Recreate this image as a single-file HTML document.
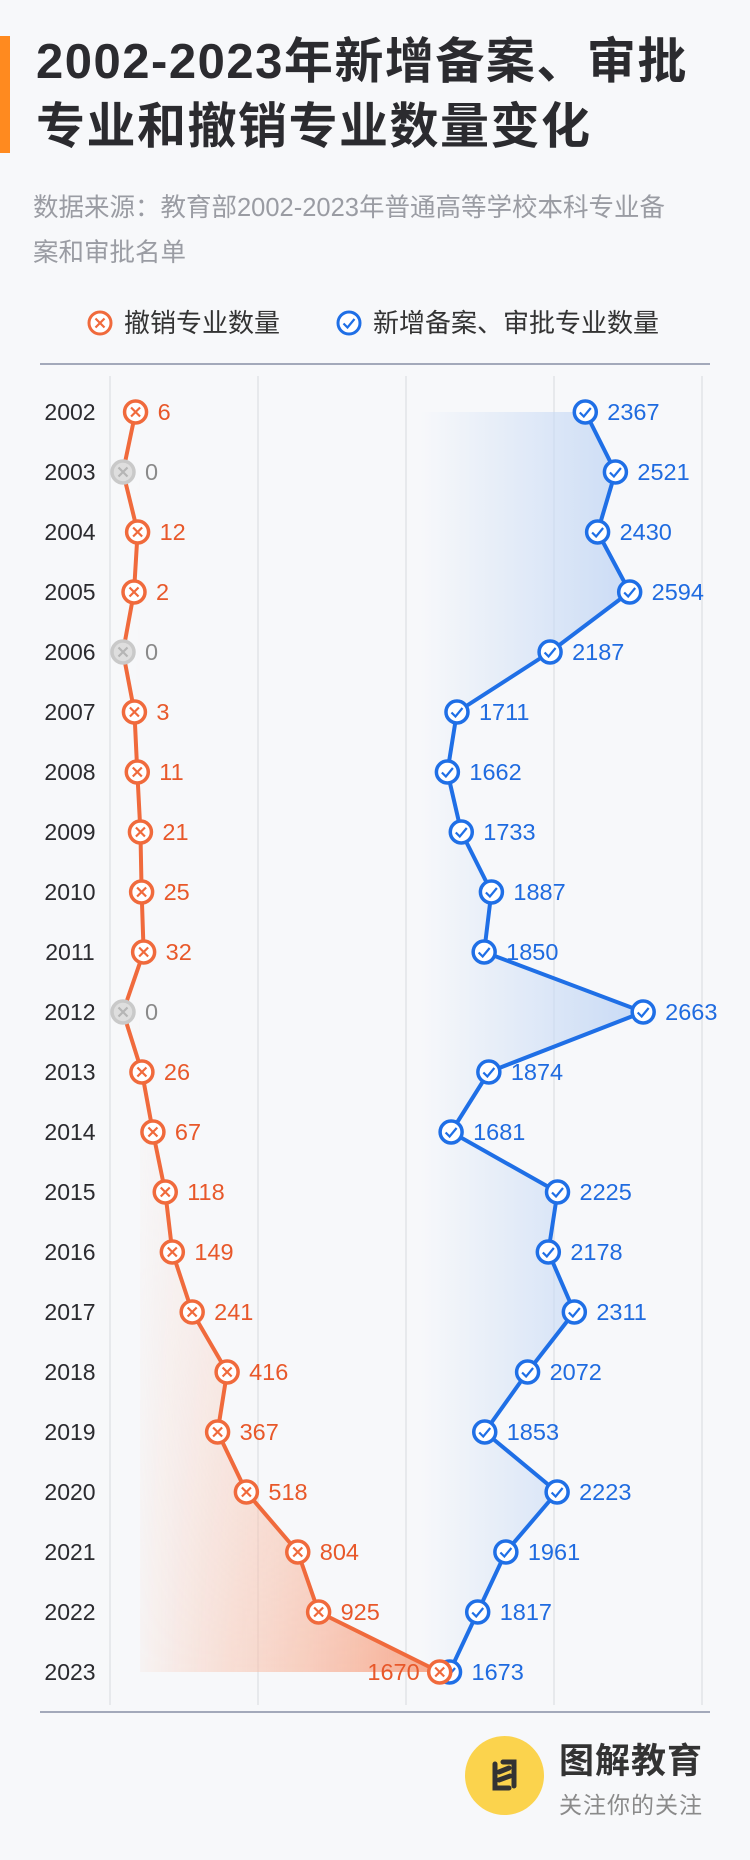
<!DOCTYPE html>
<html><head><meta charset="utf-8">
<style>
html,body{margin:0;padding:0;}
body{width:750px;height:1860px;background:#f7f8fa;position:relative;overflow:hidden;font-family:"Liberation Sans","Noto Sans CJK SC",sans-serif;}
.abs{position:absolute;}
</style></head>
<body>
<div class="abs" style="left:0;top:36px;width:10px;height:117px;background:#ff8a1f;"></div>
<div class="abs" style="left:36px;top:30px;font-size:49px;font-weight:bold;color:#2b2b2f;line-height:65px;letter-spacing:1.5px;white-space:nowrap;">2002-2023年新增备案、审批<br>专业和撤销专业数量变化</div>
<div class="abs" style="left:33px;top:186px;font-size:25.5px;color:#9a9ca3;line-height:45px;white-space:nowrap;">数据来源：教育部2002-2023年普通高等学校本科专业备<br>案和审批名单</div>

<svg class="abs" style="left:0;top:0" width="750" height="1860">
<defs>
<linearGradient id="gb" x1="0" y1="0" x2="1" y2="0">
<stop offset="0" stop-color="#c8daf5" stop-opacity="0"/><stop offset="1" stop-color="#c8daf5" stop-opacity="1"/></linearGradient>
<linearGradient id="go" x1="0" y1="0" x2="1" y2="0">
<stop offset="0" stop-color="#f8b8a0" stop-opacity="0"/><stop offset="0.35" stop-color="#f8c2ad" stop-opacity="0.5"/><stop offset="1" stop-color="#f6a88c" stop-opacity="1"/></linearGradient>
<linearGradient id="gv" x1="0" y1="0" x2="0" y2="1">
<stop offset="0" stop-color="#fff" stop-opacity="0"/><stop offset="0.5" stop-color="#fff" stop-opacity="0.25"/><stop offset="1" stop-color="#fff" stop-opacity="1"/></linearGradient>
<mask id="mv" maskContentUnits="userSpaceOnUse"><rect x="0" y="412" width="750" height="1260" fill="url(#gv)"/></mask>
</defs>
<g id="legend">
<circle cx="100" cy="323" r="11" fill="#fff" stroke="#f06a3c" stroke-width="3"/>
<path d="M95.5 318.5 L104.5 327.5 M104.5 318.5 L95.5 327.5" stroke="#f06a3c" stroke-width="2.2"/>
<text x="124" y="332" font-size="26" fill="#333">撤销专业数量</text>
<circle cx="349" cy="323" r="11" fill="#fff" stroke="#1f6fe6" stroke-width="3"/>
<path d="M343.5 323.5 L347.5 327.5 L354.5 319" stroke="#1f6fe6" stroke-width="2.2" fill="none"/>
<text x="373" y="332" font-size="26" fill="#333">新增备案、审批专业数量</text>
</g>
<line x1="40" y1="364" x2="710" y2="364" stroke="#a3a9ba" stroke-width="2"/>
<line x1="40" y1="1712" x2="710" y2="1712" stroke="#a3a9ba" stroke-width="2"/>
<g id="grid"></g>
<g id="areas"></g>
<g id="lines"></g>
<g id="marks"></g>
<g id="ylab"></g>
</svg>

<div class="abs" style="left:465px;top:1736px;width:79px;height:79px;border-radius:50%;background:#fbd34d;">
<svg width="79" height="79"><path d="M30 28 L30 52 L44 52 M38 26 L49 26 L49 50 M34 36 L44 32 M34 44 L45 40" stroke="#333" stroke-width="5" fill="none" stroke-linecap="round"/></svg></div>
<div class="abs" style="left:559px;top:1733px;font-size:35px;color:#333;font-weight:bold;letter-spacing:1px;">图解教育</div>
<div class="abs" style="left:559px;top:1786px;font-size:23px;color:#8a8a8a;letter-spacing:1px;">关注你的关注</div>

<script>
const years=["2002","2003","2004","2005","2006","2007","2008","2009","2010","2011","2012","2013","2014","2015","2016","2017","2018","2019","2020","2021","2022","2023"];
const revoked=[6,0,12,2,0,3,11,21,25,32,0,26,67,118,149,241,416,367,518,804,925,1670];
const added=[2367,2521,2430,2594,2187,1711,1662,1733,1887,1850,2663,1874,1681,2225,2178,2311,2072,1853,2223,1961,1817,1673];
const gridX=[110,258,406,554,702];

const NS="http://www.w3.org/2000/svg";
function yOf(i){return 412+60*i;}
function xRev(v){return 123+(v>0?10+0.559*Math.pow(v,0.85):0);}
function xAdd(v){return 122.3+0.1956*v;}
function mk(tag,attrs,parent){const e=document.createElementNS(NS,tag);for(const k in attrs)e.setAttribute(k,attrs[k]);parent.appendChild(e);return e;}
const G=id=>document.getElementById(id);

gridX.forEach(x=>{
  const l=mk('line',{x1:x,y1:376,x2:x,y2:1705,stroke:'#e2e4e8','stroke-width':1.5},G('grid'));
  
  
});

const n=years.length;
let pb=`M420 ${yOf(0)} `;
added.forEach((v,i)=>{pb+=`L${xAdd(v)} ${yOf(i)} `;});
pb+=`L420 ${yOf(n-1)} Z`;
const ab=mk('path',{d:pb,fill:'url(#gb)'},G('areas'));


let po=`M140 ${yOf(0)} `;
revoked.forEach((v,i)=>{po+=`L${xRev(v)} ${yOf(i)} `;});
po+=`L140 ${yOf(n-1)} Z`;
const ao=mk('path',{d:po,fill:'url(#go)',mask:'url(#mv)'},G('areas'));



const lo=mk('polyline',{points:revoked.map((v,i)=>xRev(v)+','+yOf(i)).join(' '),fill:'none',stroke:'#f06a3c','stroke-width':4,'stroke-linejoin':'round'},G('lines'));


const lb=mk('polyline',{points:added.map((v,i)=>xAdd(v)+','+yOf(i)).join(' '),fill:'none',stroke:'#1f6fe6','stroke-width':4,'stroke-linejoin':'round'},G('lines'));



years.forEach((yr,i)=>{
  const y=yOf(i);
  const t=mk('text',{x:70,y:y+8,'font-size':23,fill:'#2b2b2f','text-anchor':'middle'},G('ylab'));
  t.textContent=yr;
  
  
  const xb=xAdd(added[i]);
  const cb=mk('circle',{cx:xb,cy:y,r:11,fill:'#fff',stroke:'#1f6fe6','stroke-width':3.5},G('marks'));
  
  
  mk('path',{d:`M${xb-5.5} ${y+0.5} L${xb-1.5} ${y+4.5} L${xb+5.5} ${y-4}`,stroke:'#1f6fe6','stroke-width':2.2,fill:'none'},G('marks'));
  const tb=mk('text',{x:xb+22,y:y+8,'font-size':23.5,fill:'#1f6be0'},G('marks'));
  tb.textContent=added[i];
  
  
  const v=revoked[i], xr=xRev(v), zero=v===0;
  const col=zero?'#c9c9c9':'#f06a3c';
  const cr=mk('circle',{cx:xr,cy:y,r:11,fill:zero?'#dedede':'#fff',stroke:col,'stroke-width':3.5},G('marks'));
  
  
  mk('path',{d:`M${xr-4.5} ${y-4.5} L${xr+4.5} ${y+4.5} M${xr+4.5} ${y-4.5} L${xr-4.5} ${y+4.5}`,stroke:zero?'#b5b5b5':'#f06a3c','stroke-width':2.2},G('marks'));
  const last=i===n-1;
  const tr=mk('text',{x:last?xr-20:xr+22,y:y+8,'font-size':23.5,fill:zero?'#8a8a8a':'#e8582a','text-anchor':last?'end':'start'},G('marks'));
  tr.textContent=v;
  
  
});
</script>
</body></html>
